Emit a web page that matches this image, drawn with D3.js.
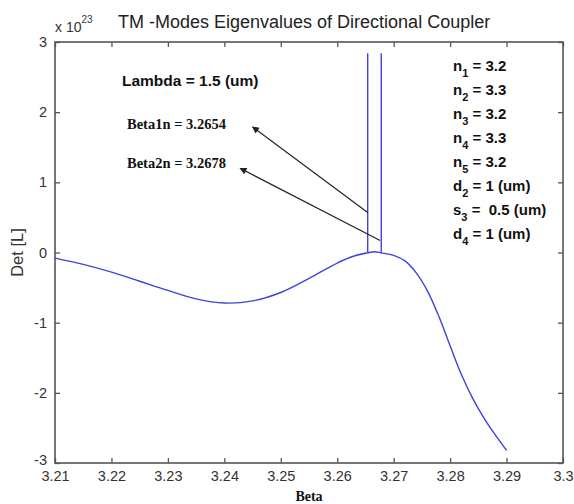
<!DOCTYPE html>
<html>
<head>
<meta charset="utf-8">
<script src="https://cdn.jsdelivr.net/npm/d3@7"></script>
<style>
  body { margin: 0; background: #fff; }
  svg { display: block; }
</style>
</head>
<body>
<svg id="chart"></svg>
<script>
// size of svg and the plot box
var width = 574;
var height = 504;
var margin = {top: 42, right: 11, bottom: 41, left: 55};

// curve (Det[L] in units of 1e23)
var betaVals = [3.21, 3.215, 3.22, 3.225, 3.23, 3.235, 3.24, 3.245, 3.25, 3.255, 3.26, 3.263,
                3.2654, 3.2666, 3.2678, 3.27, 3.272, 3.274, 3.276, 3.278, 3.28, 3.282, 3.284,
                3.286, 3.288, 3.29];
var detVals = [-0.08, -0.17, -0.28, -0.41, -0.54, -0.66, -0.72, -0.69, -0.57, -0.37, -0.15, -0.05,
               -0.005, 0.01, -0.005, -0.04, -0.12, -0.29, -0.55, -0.91, -1.33, -1.74, -2.08,
               -2.36, -2.6, -2.82];

// the two roots, drawn as tall spikes
var poleBetas = [3.2654, 3.2678];
var poleTop = 2.84;

// arrows: tail near the spike, head at the label
var arrowTails = [[3.2654, 0.57], [3.2676, 0.17]];
var arrowHeads = [[3.2450, 1.79], [3.2428, 1.2]];

var xTicks = [3.21, 3.22, 3.23, 3.24, 3.25, 3.26, 3.27, 3.28, 3.29, 3.3];
var xTickLabels = ["3.21", "3.22", "3.23", "3.24", "3.25", "3.26", "3.27", "3.28", "3.29", "3.3"];
var yTicks = [-3, -2, -1, 0, 1, 2, 3];
var yTickLabels = ["-3", "-2", "-1", "0", "1", "2", "3"];

var paramLabels = [
  {v: "n", s: "1", t: " = 3.2"},
  {v: "n", s: "2", t: " = 3.3"},
  {v: "n", s: "3", t: " = 3.2"},
  {v: "n", s: "4", t: " = 3.3"},
  {v: "n", s: "5", t: " = 3.2"},
  {v: "d", s: "2", t: " = 1 (um)"},
  {v: "s", s: "3", t: " =  0.5 (um)"},
  {v: "d", s: "4", t: " = 1 (um)"}
];

var x = d3.scaleLinear()
          .domain([3.21, 3.3])
          .range([margin.left, width - margin.right]);

var y = d3.scaleLinear()
          .domain([-3, 3])
          .range([height - margin.bottom, margin.top]);

var svg = d3.select("#chart")
            .attr("width", width)
            .attr("height", height)
            .style("font-family", "'Liberation Sans', Arial, sans-serif");

var axisColor = "#555";
var lineBlue = "#4141dd";

svg.append("defs").append("marker")
  .attr("id", "head")
  .attr("viewBox", "0 0 10 10")
  .attr("refX", 9)
  .attr("refY", 5)
  .attr("markerWidth", 9)
  .attr("markerHeight", 7)
  .attr("markerUnits", "userSpaceOnUse")
  .attr("orient", "auto")
  .append("path")
  .attr("d", "M0,0L10,5L0,10Z")
  .style("fill", "#222");

// axes, ticks point inwards like matlab
function styleAxis(g, showText) {
  g.select(".domain").remove();
  g.selectAll(".tick line").style("stroke", axisColor).style("stroke-width", 1.3);
  g.selectAll(".tick text")
    .style("font-size", "14.5px")
    .style("font-family", "'Liberation Sans', Arial, sans-serif")
    .style("fill", "#333")
    .style("display", showText ? null : "none");
}

svg.append("g")
  .attr("transform", "translate(0," + (height - margin.bottom) + ")")
  .call(d3.axisBottom(x).tickValues(xTicks)
          .tickFormat(function(d, i) { return xTickLabels[i]; })
          .tickSize(-5).tickPadding(8))
  .call(styleAxis, true);

svg.append("g")
  .attr("transform", "translate(0," + margin.top + ")")
  .call(d3.axisTop(x).tickValues(xTicks).tickSize(-5))
  .call(styleAxis, false);

var yAxisG = svg.append("g")
  .attr("transform", "translate(" + margin.left + ",0)")
  .call(d3.axisLeft(y).tickValues(yTicks)
          .tickFormat(function(d, i) { return yTickLabels[i]; })
          .tickSize(-5).tickPadding(8))
  .call(styleAxis, true);

// lift the bottom label a touch so it clears 3.21
yAxisG.selectAll(".tick text")
  .filter(function(d) { return d == -3; })
  .attr("y", -3);

svg.append("g")
  .attr("transform", "translate(" + (width - margin.right) + ",0)")
  .call(d3.axisRight(y).tickValues(yTicks).tickSize(-5))
  .call(styleAxis, false);

svg.append("rect")
  .attr("x", margin.left)
  .attr("y", margin.top)
  .attr("width", width - margin.left - margin.right)
  .attr("height", height - margin.top - margin.bottom)
  .style("fill", "none")
  .style("stroke", axisColor)
  .style("stroke-width", 1.6);

// the curve
var pts = betaVals.map(function(b, i) { return [b, detVals[i]]; });
var line = d3.line()
  .x(function(d) { return x(d[0]); })
  .y(function(d) { return y(d[1]); })
  .curve(d3.curveCatmullRom.alpha(0.5));

svg.append("path")
  .datum(pts)
  .attr("d", line)
  .style("fill", "none")
  .style("stroke", lineBlue)
  .style("stroke-width", 1.4);

// spikes at the roots
svg.selectAll(".pole")
  .data(poleBetas)
  .enter()
  .append("line")
  .attr("class", "pole")
  .attr("x1", function(d) { return x(d); })
  .attr("x2", function(d) { return x(d); })
  .attr("y1", function(d) { return y(detVals[betaVals.indexOf(d)]); })
  .attr("y2", y(poleTop))
  .style("stroke", lineBlue)
  .style("stroke-width", 1.4);

// arrows
svg.selectAll(".arrow")
  .data(arrowTails)
  .enter()
  .append("line")
  .attr("class", "arrow")
  .attr("x1", function(d) { return x(d[0]); })
  .attr("y1", function(d) { return y(d[1]); })
  .attr("x2", function(d, i) { return x(arrowHeads[i][0]); })
  .attr("y2", function(d, i) { return y(arrowHeads[i][1]); })
  .style("stroke", "#222")
  .style("stroke-width", 1.2)
  .attr("marker-end", "url(#head)");

// title and scale factor
svg.append("text")
  .attr("x", 118)
  .attr("y", 28)
  .style("font-size", "18px")
  .style("fill", "#222")
  .text("TM -Modes Eigenvalues of Directional Coupler");

var sc = svg.append("text")
  .attr("x", 55)
  .attr("y", 32)
  .style("font-size", "14px")
  .style("fill", "#333");
sc.append("tspan").text("x 10");
sc.append("tspan").attr("dy", -9).style("font-size", "10px").text("23");

// axis labels
svg.append("text")
  .attr("transform", "translate(23," + y(0) + ")rotate(-90)")
  .attr("text-anchor", "middle")
  .style("font-size", "16.5px")
  .style("fill", "#333")
  .text("Det [L]");

svg.append("text")
  .attr("x", (margin.left + width - margin.right) / 2)
  .attr("y", 501)
  .attr("text-anchor", "middle")
  .style("font-family", "'Liberation Serif', 'Times New Roman', serif")
  .style("font-weight", "bold")
  .style("font-size", "14px")
  .style("fill", "#111")
  .text("Beta");

// annotations
svg.append("text")
  .attr("x", 122)
  .attr("y", 86)
  .style("font-size", "15.5px")
  .style("font-weight", "bold")
  .style("fill", "#111")
  .text("Lambda = 1.5 (um)");

svg.selectAll(".betalab")
  .data(["Beta1n = 3.2654", "Beta2n = 3.2678"])
  .enter()
  .append("text")
  .attr("class", "betalab")
  .attr("x", 127)
  .attr("y", function(d, i) { return 129 + i * 39; })
  .style("font-family", "'Liberation Serif', 'Times New Roman', serif")
  .style("font-weight", "bold")
  .style("font-size", "14.5px")
  .style("fill", "#111")
  .text(function(d) { return d; });

var plab = svg.selectAll(".param")
  .data(paramLabels)
  .enter()
  .append("text")
  .attr("class", "param")
  .attr("x", 453)
  .attr("y", function(d, i) { return 70.7 + i * 24.1; })
  .style("font-size", "15px")
  .style("font-weight", "bold")
  .style("fill", "#111")
  .style("white-space", "pre");
plab.append("tspan").text(function(d) { return d.v; });
plab.append("tspan").attr("dy", 6).style("font-size", "11px").text(function(d) { return d.s; });
plab.append("tspan").attr("dy", -6).text(function(d) { return d.t; });
</script>
</body>
</html>
